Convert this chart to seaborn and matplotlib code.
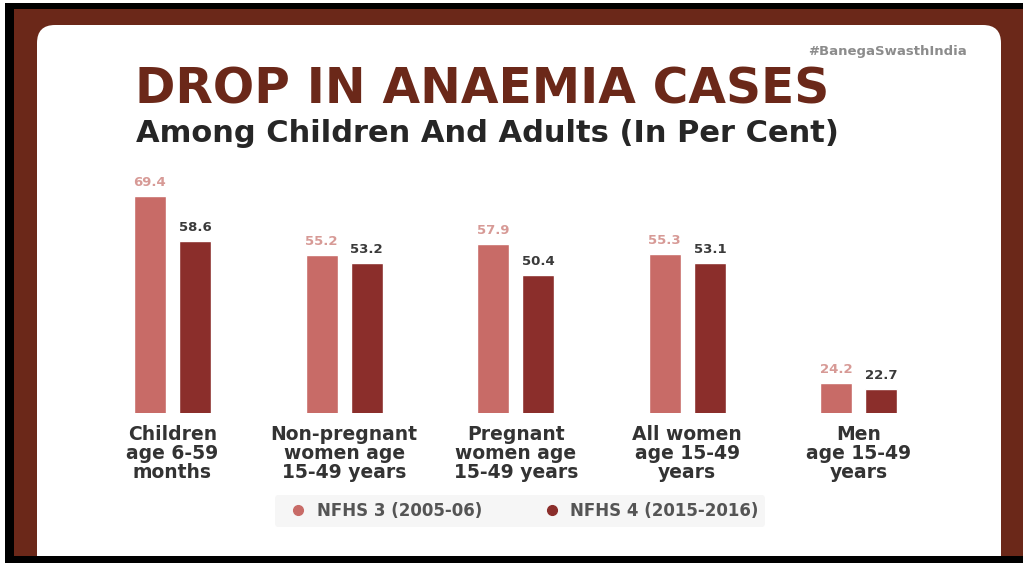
import matplotlib
matplotlib.use("Agg")
import matplotlib.pyplot as plt
from matplotlib.patches import FancyBboxPatch, Rectangle
from matplotlib.lines import Line2D
from matplotlib.transforms import IdentityTransform
import seaborn as sns
import pandas as pd

# ---------------- data ----------------
categories = [
    "Children\nage 6-59\nmonths",
    "Non-pregnant\nwomen age\n15-49 years",
    "Pregnant\nwomen age\n15-49 years",
    "All women\nage 15-49\nyears",
    "Men\nage 15-49\nyears",
]
series_names = ["NFHS 3 (2005-06)", "NFHS 4 (2015-2016)"]
nfhs3 = [69.4, 55.2, 57.9, 55.3, 24.2]
nfhs4 = [58.6, 53.2, 50.4, 53.1, 22.7]

title = "DROP IN ANAEMIA CASES"
subtitle = "Among Children And Adults (In Per Cent)"
hashtag = "#BanegaSwasthIndia"

# ---------------- styling ----------------
BROWN = "#6b2819"
LIGHT = "#c86b67"
DARK = "#8b2e2b"
LIGHT_TXT = "#d79a96"
DARK_TXT = "#3a3a3a"

sns.set_theme(style="white")
plt.rcParams["font.family"] = ["DejaVu Sans"]

W, H = 1023, 563
fig = plt.figure(figsize=(W / 100, H / 100), dpi=100)
fig.patch.set_facecolor("white")

def fy(px_top):
    return H - px_top

# frame decorations (pixel coords)
fig.add_artist(Rectangle((5, 0), W - 5, fy(3), transform=IdentityTransform(),
                         facecolor="black", edgecolor="none", zorder=-10))
fig.add_artist(Rectangle((14, fy(556)), W - 14, 556 - 9, transform=IdentityTransform(),
                         facecolor=BROWN, edgecolor="none", zorder=-9))
fig.add_artist(FancyBboxPatch((37, fy(620)), 1001 - 37, 620 - 25,
                              boxstyle="round,pad=0,rounding_size=18",
                              transform=IdentityTransform(),
                              facecolor="white", edgecolor="none", zorder=-8))
fig.add_artist(Rectangle((5, 0), W - 5, fy(556), transform=IdentityTransform(),
                         facecolor="black", edgecolor="none", zorder=-7))

# ---------------- data frame ----------------
df = pd.DataFrame({
    "category": categories * 2,
    "survey": [series_names[0]] * len(categories) + [series_names[1]] * len(categories),
    "value": nfhs3 + nfhs4,
})

# axes placement
L_px, R_px = 40, 1000
top_px, bot_px = 170, 413
ax = fig.add_axes([L_px / W, (H - bot_px) / H, (R_px - L_px) / W, (bot_px - top_px) / H])
ax.set_facecolor("none")

sns.barplot(data=df, x="category", y="value", hue="survey", order=categories,
            hue_order=series_names, palette=[LIGHT, DARK], width=0.525, gap=0.29,
            saturation=1, errorbar=None, legend=False, ax=ax)

unit_px = 171.6
c0 = 172.5
ax.set_xlim((L_px - c0) / unit_px, (R_px - c0) / unit_px)
y0 = 16.8
ax.set_ylim(y0, y0 + (bot_px - top_px) / 4.12)

for cont, col in zip(ax.containers, [LIGHT_TXT, DARK_TXT]):
    ax.bar_label(cont, fmt="%.1f", padding=5, fontsize=9.5, fontweight="bold", color=col)

for s in ax.spines.values():
    s.set_visible(False)
ax.set_yticks([])
ax.set_xlabel("")
ax.set_ylabel("")
ax.tick_params(axis="x", length=0, pad=9)
for lab in ax.get_xticklabels():
    lab.set_fontsize(13.5)
    lab.set_fontweight("bold")
    lab.set_color("#333333")
    lab.set_linespacing(0.98)
    lab.set_verticalalignment("top")

# ---------------- texts ----------------
fig.text(967 / W, fy(52) / H, hashtag, ha="right", va="center", fontsize=9.5,
         fontweight="bold", color="#8c8c8c")
fig.text(135 / W, fy(89) / H, title, ha="left", va="center", fontsize=35,
         fontweight="heavy", color=BROWN)
fig.text(136 / W, fy(134) / H, subtitle, ha="left", va="center", fontsize=22,
         fontweight="bold", color="#262626")

# ---------------- legend ----------------
handles = [Line2D([], [], marker="o", linestyle="none", markersize=7, color=c)
           for c in [LIGHT, DARK]]
leg = fig.legend(handles, series_names, loc="center",
                 bbox_to_anchor=(520 / W, fy(511) / H), ncol=2, frameon=True,
                 facecolor="#f4f4f4", edgecolor="none", fancybox=True,
                 columnspacing=3.2, handletextpad=0.1, borderpad=0.4,
                 prop={"weight": "bold", "size": 12})
for t in leg.get_texts():
    t.set_color("#555555")

fig.savefig("out.png", dpi=100)
